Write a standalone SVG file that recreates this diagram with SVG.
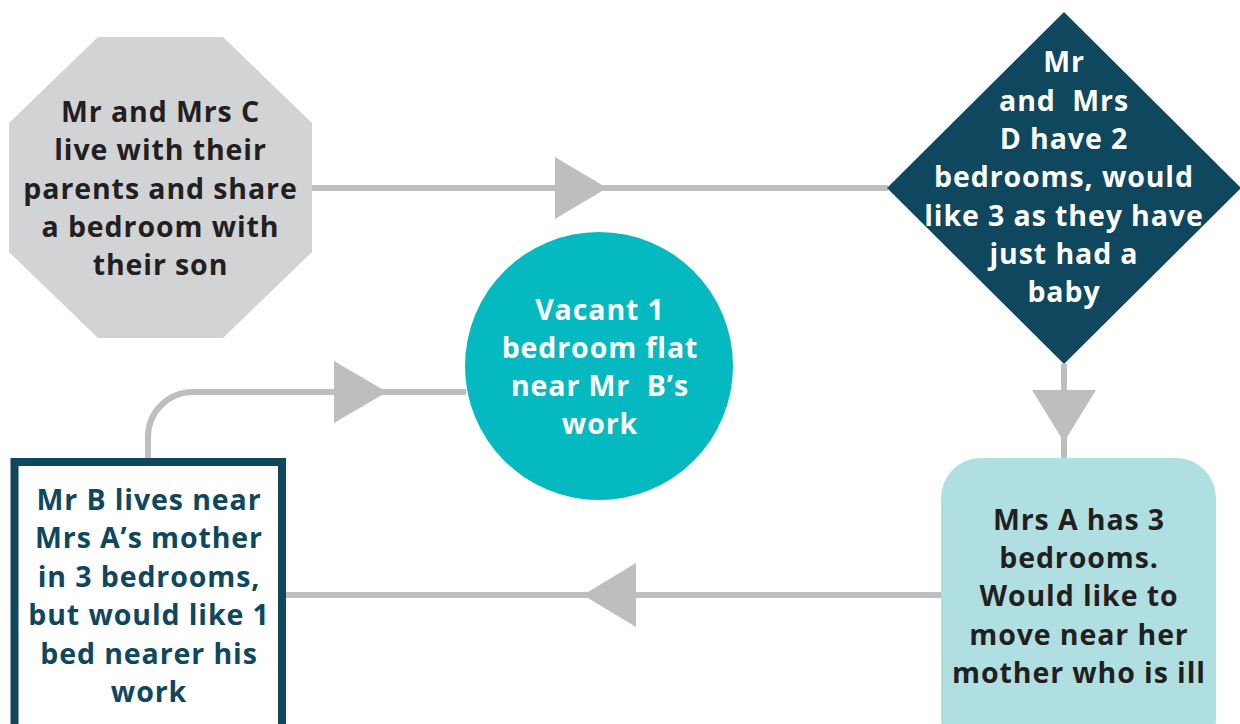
<svg xmlns="http://www.w3.org/2000/svg" width="1240" height="724" viewBox="0 0 1240 724">
<style>
text{font-family:"Open Sans","Liberation Sans",sans-serif;font-weight:700;font-size:28.5px;letter-spacing:0.9px;text-anchor:middle;white-space:pre}
.dk{fill:#231f20}.wh{fill:#ffffff}.nv{fill:#0e475e}
.ln{fill:none;stroke:#bcbec0;stroke-width:6}
.ah{fill:#bcbec0}
</style>
<rect width="1240" height="724" fill="#ffffff"/>
<g id="connectors">
<path class="ln" d="M312,188 H888"/>
<polygon class="ah" points="555,157 607,188 555,219"/>
<path class="ln" d="M1064,364 V458"/>
<polygon class="ah" points="1032,390 1096,390 1064,442"/>
<path class="ln" d="M941,595 H286"/>
<polygon class="ah" points="636,563 583,595 636,627"/>
<path class="ln" d="M148,458 V437 A45,45 0 0 1 193,392 H466"/>
<polygon class="ah" points="334,361 387,392 334,423"/>
</g>
<g id="node-c">
<polygon points="98,37 223,37 312,123 312,252 223,338 98,338 9,252 9,123" fill="#d1d3d4"/>
<text class="dk" x="160.5" y="122">Mr and Mrs C</text>
<text class="dk" x="160.5" y="160">live with their</text>
<text class="dk" x="160.5" y="198.5">parents and share</text>
<text class="dk" x="160.5" y="237">a bedroom with</text>
<text class="dk" x="160.5" y="275">their son</text>
</g>
<g id="node-d">
<polygon points="1064,12 1241,188 1064,364 887,188" fill="#0e475e"/>
<text class="wh" x="1064" y="72">Mr</text>
<text class="wh" x="1064" y="111">and  Mrs</text>
<text class="wh" x="1064" y="149">D have 2</text>
<text class="wh" x="1064" y="187">bedrooms, would</text>
<text class="wh" x="1064" y="226">like 3 as they have</text>
<text class="wh" x="1064" y="264">just had a</text>
<text class="wh" x="1064" y="302">baby</text>
</g>
<g id="node-vacant">
<circle cx="599" cy="366" r="134" fill="#04b9bf"/>
<text class="wh" x="600" y="320">Vacant 1</text>
<text class="wh" x="600" y="358">bedroom flat</text>
<text class="wh" x="600" y="396">near Mr  B’s</text>
<text class="wh" x="600" y="434">work</text>
</g>
<g id="node-b">
<rect x="14.5" y="462" width="267.5" height="280" fill="#ffffff" stroke="#0e475e" stroke-width="8"/>
<text class="nv" x="149" y="510">Mr B lives near</text>
<text class="nv" x="149" y="548">Mrs A’s mother</text>
<text class="nv" x="149" y="587">in 3 bedrooms,</text>
<text class="nv" x="149" y="625">but would like 1</text>
<text class="nv" x="149" y="664">bed nearer his</text>
<text class="nv" x="149" y="702">work</text>
</g>
<g id="node-a">
<rect x="941" y="458" width="275" height="300" rx="40" ry="40" fill="#b0dfe1"/>
<text class="dk" x="1079" y="530">Mrs A has 3</text>
<text class="dk" x="1079" y="568">bedrooms.</text>
<text class="dk" x="1079" y="606">Would like to</text>
<text class="dk" x="1079" y="645">move near her</text>
<text class="dk" x="1079" y="683">mother who is ill</text>
</g>
</svg>
